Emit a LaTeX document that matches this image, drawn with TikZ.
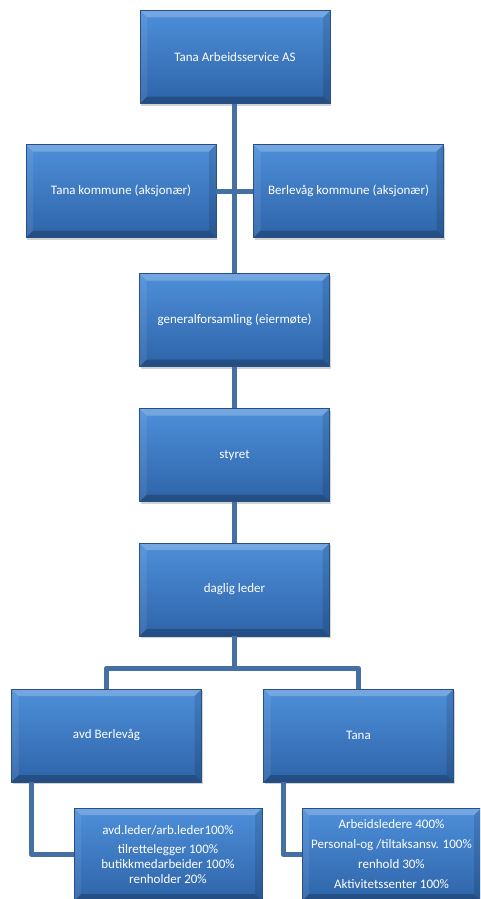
\documentclass[tikz,border=0pt]{standalone}
\usepackage{fontspec}
\setmainfont{Carlito}
\usetikzlibrary{positioning}
\usetikzlibrary{shadows}
\definecolor{boxtop}   {RGB}{78,143,218}
\definecolor{boxbot}   {RGB}{46,100,168}
\definecolor{boxedge}  {RGB}{40,80,130}
\definecolor{linkline} {RGB}{68,112,166}

\tikzset{
  orgbox/.style={
    rectangle, draw=boxedge, thin,
    top color=boxtop, bottom color=boxbot,
    text=white, align=center,
    font=\fontsize{13}{15}\selectfont,
    minimum width=190pt, minimum height=93pt,
    inner sep=2pt,
    drop shadow={shadow xshift=1pt, shadow yshift=-2pt, opacity=.35},
    path picture={
      \fill[white, opacity=.22]
        (path picture bounding box.north west) --
        (path picture bounding box.north east) --
        ([xshift=-7pt,yshift=-7pt]path picture bounding box.north east) --
        ([xshift=7pt,yshift=-7pt]path picture bounding box.north west) -- cycle;
      \fill[black, opacity=.22]
        (path picture bounding box.south west) --
        (path picture bounding box.south east) --
        ([xshift=-7pt,yshift=7pt]path picture bounding box.south east) --
        ([xshift=7pt,yshift=7pt]path picture bounding box.south west) -- cycle;
      \fill[white, opacity=.08]
        (path picture bounding box.north west) --
        ([xshift=7pt,yshift=-7pt]path picture bounding box.north west) --
        ([xshift=7pt,yshift=7pt]path picture bounding box.south west) --
        (path picture bounding box.south west) -- cycle;
      \fill[black, opacity=.12]
        (path picture bounding box.north east) --
        ([xshift=-7pt,yshift=-7pt]path picture bounding box.north east) --
        ([xshift=-7pt,yshift=7pt]path picture bounding box.south east) --
        (path picture bounding box.south east) -- cycle;
    }},
  link/.style={draw=linkline, line width=5pt, line join=round}
}

\begin{document}
\begin{tikzpicture}[x=1pt, y=-1pt]
  \useasboundingbox (0,0) rectangle (480,899);
  \clip (0,0) rectangle (480,899);

  % crossing of the owner line
  \coordinate (cross) at (234,191);

  % company
  \node (company) [orgbox] at (235,57) {Tana Arbeidsservice AS};

  % owners
  \node (tanakom) [orgbox] at (121,191) {Tana kommune (aksjonær)};
  \node (berlkom) [orgbox] at (348.5,191) {Berlevåg kommune (aksjonær)};

  % governing
  \node (genfors) [orgbox] at (234.5,320) {generalforsamling (eiermøte)};
  \node (styret)  [orgbox] at (234.5,455) {styret};
  \node (leder)   [orgbox] at (234.5,589.5) {daglig leder};

  % departments
  \node (avdberl) [orgbox] at (106.5,735.5) {avd Berlevåg};
  \node (avdtana) [orgbox] at (358.5,735.5) {Tana};

  % staff
  \node (staffberl) [orgbox, minimum width=188pt] at (168,854.5)
    {avd.leder/arb.leder100\%\\[4pt]
     tilrettelegger 100\%\\
     butikkmedarbeider 100\%\\
     renholder 20\%};
  \node (stafftana) [orgbox, minimum width=179pt] at (391.5,854.5)
    {Arbeidsledere 400\%\\[5pt]
     Personal-og /tiltaksansv. 100\%\\[5pt]
     renhold 30\%\\[5pt]
     Aktivitetssenter 100\%};

  % edges
  \path [link]
    (company.south -| cross) edge (genfors.north -| cross)
    (tanakom.east) edge (berlkom.west)
    (genfors) edge (styret)
    (styret) edge (leder)
    ;
  \draw [link] (leder.south) -- ++(0,32) -| (avdberl.north);
  \draw [link] (leder.south) -- ++(0,32) -| (avdtana.north);
  \draw [link] ([xshift=20pt]avdberl.south west) |- (staffberl.west);
  \draw [link] ([xshift=20pt]avdtana.south west) |- (stafftana.west);
\end{tikzpicture}
\end{document}
